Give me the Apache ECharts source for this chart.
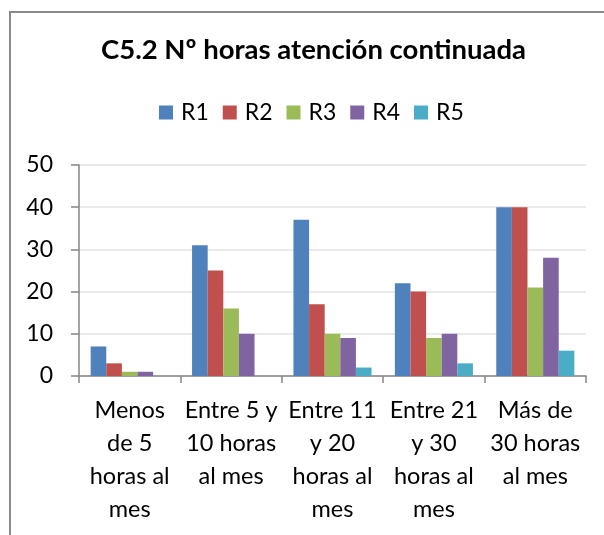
<!DOCTYPE html>
<html>
<head>
<meta charset="utf-8">
<script src="https://cdn.jsdelivr.net/npm/echarts@6/dist/echarts.min.js"></script>
<style>
html,body{margin:0;padding:0;background:#fff;}
#chart{width:604px;height:535px;}
</style>
</head>
<body>
<div id="chart"></div>
<script>
const titleText = 'C5.2 Nº horas atención continuada';
const categories = [
  'Menos\nde 5\nhoras al\nmes',
  'Entre 5 y\n10 horas\nal mes',
  'Entre 11\ny 20\nhoras al\nmes',
  'Entre 21\ny 30\nhoras al\nmes',
  'Más de\n30 horas\nal mes'
];
const seriesNames = ['R1', 'R2', 'R3', 'R4', 'R5'];
const R1 = [7, 31, 37, 22, 40];
const R2 = [3, 25, 17, 20, 40];
const R3 = [1, 16, 10, 9, 21];
const R4 = [1, 10, 9, 10, 28];
const R5 = [0, 0, 2, 3, 6];
const yTicks = [0, 10, 20, 30, 40, 50];

const colors = ['#4F81BD', '#C0504D', '#9BBB59', '#8064A2', '#4BACC6'];
const values = [R1, R2, R3, R4, R5];
const FONT = 'Lato';

const chart = echarts.init(document.getElementById('chart'), null, {renderer: 'canvas'});
chart.setOption({
  animation: false,
  backgroundColor: '#ffffff',
  color: colors,
  graphic: [{
    type: 'rect',
    shape: {x: 10, y: 12, width: 700, height: 700},
    style: {fill: 'none', stroke: '#8a8a8a', lineWidth: 2},
    silent: true
  }],
  title: {
    text: titleText,
    left: 101,
    top: 35,
    padding: 0,
    textStyle: {fontFamily: FONT, fontWeight: 'bold', fontSize: 27.5, color: '#000', lineHeight: 30}
  },
  legend: {
    data: seriesNames,
    left: 159,
    top: 101,
    padding: 0,
    itemWidth: 14,
    itemHeight: 14,
    itemGap: 14,
    icon: 'rect',
    textStyle: {fontFamily: FONT, fontSize: 23, color: '#000', padding: [0, 0, 0, 3]}
  },
  grid: {left: 79, right: 18, top: 165, bottom: 159, containLabel: false},
  xAxis: {
    type: 'category',
    data: categories,
    axisLine: {lineStyle: {color: '#868686', width: 1.5}},
    axisTick: {show: true, length: 7, alignWithLabel: false, lineStyle: {color: '#868686', width: 1.5}},
    axisLabel: {interval: 0, margin: 18, fontFamily: FONT, fontSize: 23.5, color: '#000', lineHeight: 33, align: 'center'},
    splitLine: {show: false}
  },
  yAxis: {
    type: 'value',
    min: yTicks[0],
    max: yTicks[yTicks.length - 1],
    interval: 10,
    axisLine: {show: true, lineStyle: {color: '#868686', width: 1.5}},
    axisTick: {show: true, length: 8, lineStyle: {color: '#868686', width: 1.5}},
    axisLabel: {margin: 26, fontFamily: FONT, fontSize: 23, color: '#000'},
    splitLine: {show: true, lineStyle: {color: '#e3e3e3', width: 1.5}}
  },
  series: seriesNames.map((n, i) => ({
    name: n,
    type: 'bar',
    data: values[i],
    barGap: '0%',
    barCategoryGap: '23%',
    itemStyle: {color: colors[i]}
  }))
});
</script>
</body>
</html>
